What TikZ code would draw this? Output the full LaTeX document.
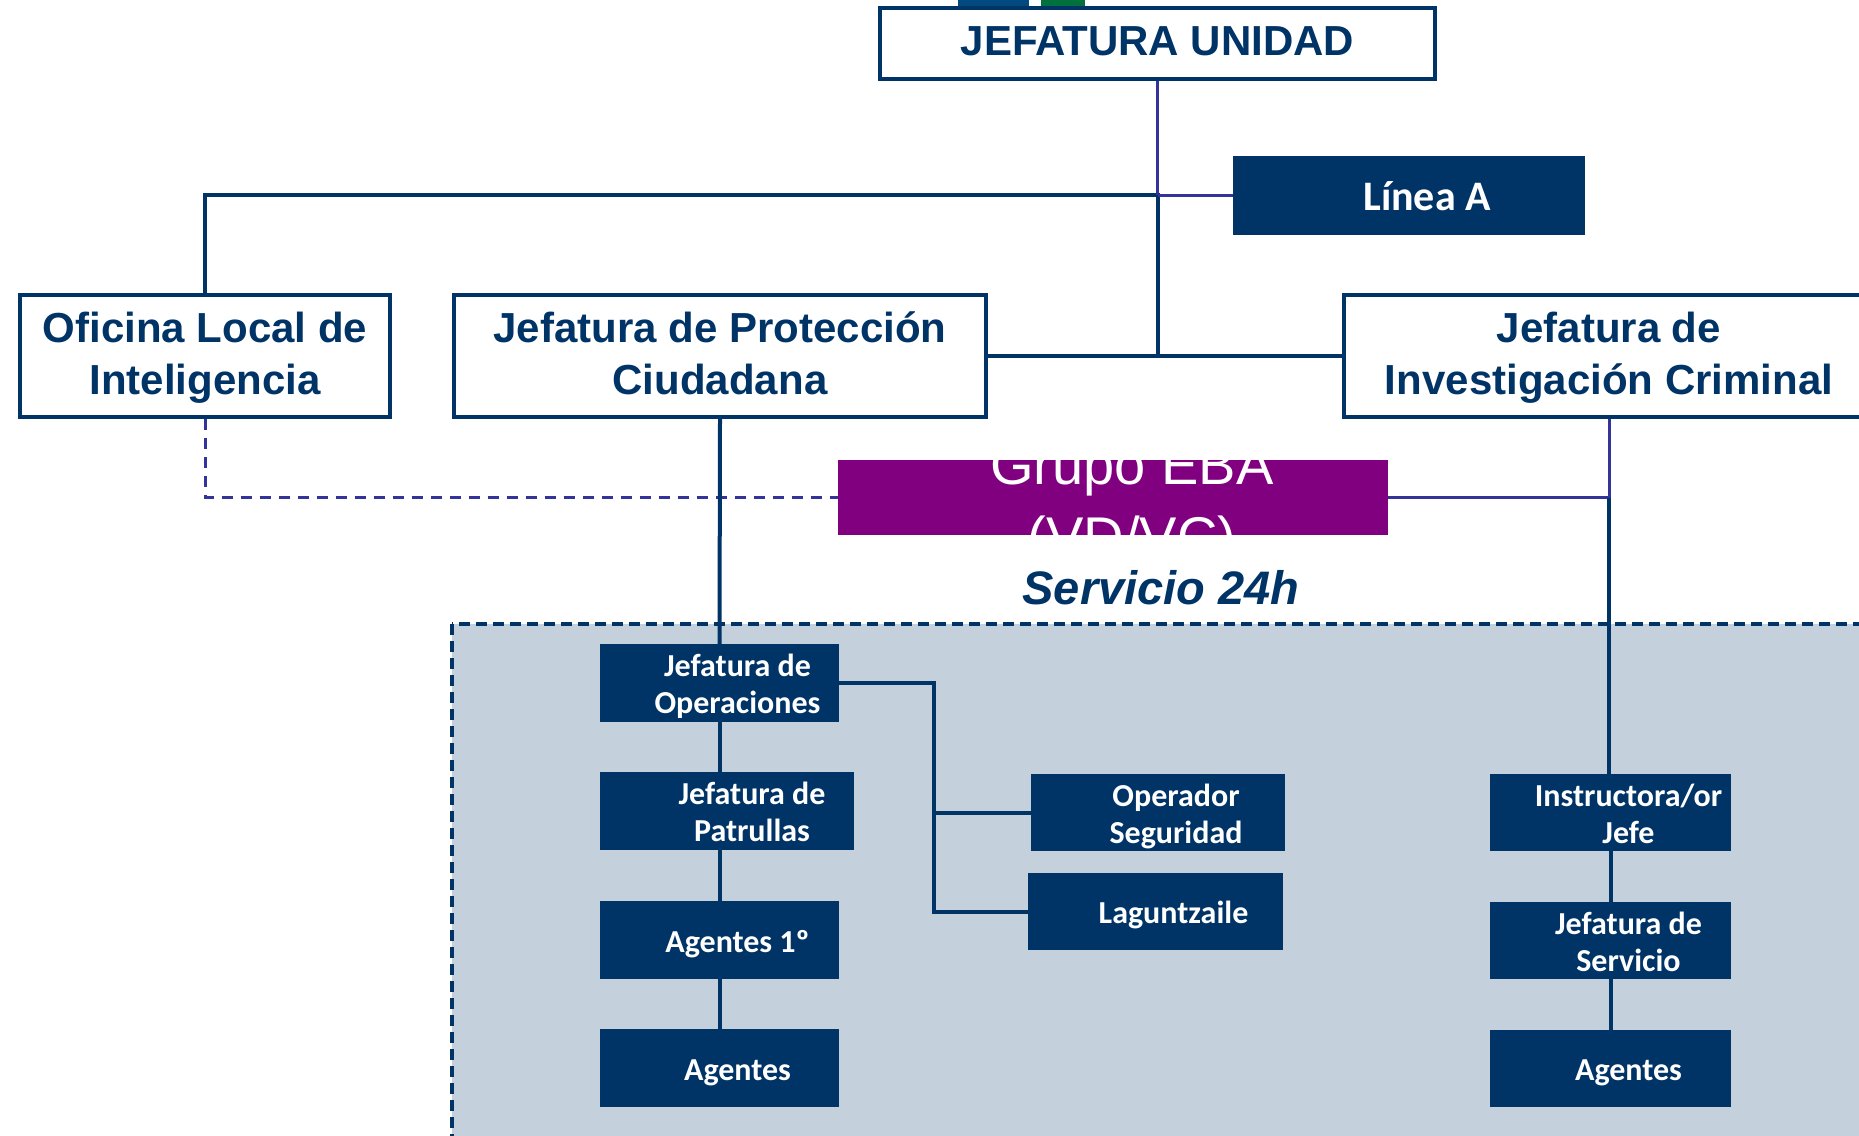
\documentclass[tikz,border=0pt]{standalone}
\usepackage{fontspec}
\setmainfont{Liberation Sans}
\newfontfamily\calfont{Carlito}
\definecolor{navy}{RGB}{0,51,102}
\definecolor{ebapurple}{RGB}{128,0,128}
\definecolor{linkpurple}{RGB}{51,51,153}
\definecolor{svcgrey}{RGB}{197,208,221}
\definecolor{topblue}{RGB}{0,74,128}
\definecolor{topgreen}{RGB}{0,112,60}
\newcommand\shiftedtext[2]{\raisebox{-5pt}[\height][\depth]{\hspace*{#1}\begin{tabular}{@{}c@{}}#2\end{tabular}}}
\newcommand\bigtext[2]{\raisebox{#1}[\height][\depth]{\begin{tabular}{@{}c@{}}#2\end{tabular}}}
\begin{document}
\begin{tikzpicture}[x=1pt,y=-1pt,
  bigbox/.style={draw=navy, line width=4pt, fill=white, text=navy,
    font=\fontsize{42}{52}\selectfont\bfseries, inner sep=0pt},
  navybox/.style={fill=navy, text=white, inner sep=0pt,
    font=\calfont\bfseries\fontsize{32}{37}\selectfont},
  thickline/.style={draw=navy, line width=4pt},
  thinline/.style={draw=linkpurple, line width=3pt},
  dashline/.style={draw=linkpurple, line width=3pt, dash pattern=on 11pt off 8pt}
]
\useasboundingbox (0,0) rectangle (1859,1135);
\clip (0,0) rectangle (1859,1135);
\fill[white] (0,0) rectangle (1859,1135);

% top slivers
\fill[topblue] (958,0) rectangle (1029,6);
\fill[topgreen] (1041,0) rectangle (1085,6);

% service area
\draw[fill=svcgrey, draw=navy, line width=3.5pt, dash pattern=on 11pt off 6pt]
  (452,624) rectangle (1880,1160);

% main boxes
\node[bigbox, minimum width=555pt, minimum height=71pt] (ju) at (1157.5,43.5) {\bigtext{-1.5pt}{JEFATURA UNIDAD}};
\node[navybox, minimum width=352pt, minimum height=79pt,
  font=\calfont\bfseries\fontsize{42}{50}\selectfont] (linea) at (1409,195) {\shiftedtext{36pt}{Línea A}};
\node[bigbox, minimum width=370pt, minimum height=122pt] (oli) at (205,356) {\bigtext{-2pt}{Oficina Local de\\Inteligencia}};
\node[bigbox, minimum width=532pt, minimum height=122pt] (jpc) at (720,356) {\bigtext{-2pt}{Jefatura de Protección\\Ciudadana}};
\node[bigbox, minimum width=530pt, minimum height=122pt] (jic) at (1609,356) {\bigtext{-2pt}{Jefatura de\\Investigación Criminal}};

% Grupo EBA
\node[fill=ebapurple, minimum width=550pt, minimum height=75pt, inner sep=0pt] (eba) at (1113,497.5) {};
\node[text=white, font=\fontsize{56}{67}\selectfont, anchor=base, inner sep=0pt] (ebat1) at (1132,484) {Grupo EBA};
\node[text=white, font=\fontsize{56}{67}\selectfont, anchor=base, inner sep=0pt] (ebat2) at (1132,556) {(VD/VC)};

% service boxes
\node[navybox, minimum width=239pt, minimum height=78pt] (jo) at (719.5,683) {\shiftedtext{36pt}{Jefatura de\\Operaciones}};
\node[navybox, minimum width=254pt, minimum height=78pt] (jp) at (727,811) {\shiftedtext{50pt}{Jefatura de\\Patrullas}};
\node[navybox, minimum width=239pt, minimum height=78pt] (a1) at (719.5,940) {\shiftedtext{36pt}{Agentes 1º}};
\node[navybox, minimum width=239pt, minimum height=78pt] (ag) at (719.5,1068) {\shiftedtext{36pt}{Agentes}};
\node[navybox, minimum width=254pt, minimum height=77pt] (os) at (1158,812.5) {\shiftedtext{36pt}{Operador\\Seguridad}};
\node[navybox, minimum width=255pt, minimum height=77pt] (lag) at (1155.5,911.5) {\shiftedtext{36pt}{Laguntzaile}};
\node[navybox, minimum width=241pt, minimum height=77pt] (ins) at (1610.5,812.5) {\shiftedtext{36pt}{Instructora/or\\Jefe}};
\node[navybox, minimum width=241pt, minimum height=77pt] (js) at (1610.5,940.5) {\shiftedtext{36pt}{Jefatura de\\Servicio}};
\node[navybox, minimum width=241pt, minimum height=77pt] (ag2) at (1610.5,1068.5) {\shiftedtext{36pt}{Agentes}};

% connector coordinates
\coordinate (hub) at (ju.south |- linea.west);
\coordinate (olitop) at (oli.north |- linea.west);
\coordinate (midjoin) at (ju.south |- jpc.east);
\coordinate (ebajoin) at (jic.south |- eba.east);
\coordinate (olidash) at (oli.south |- eba.west);
\coordinate (opsx) at (934,683);

% upper connectors
\draw[thickline] (oli.north) -- (olitop) -- (hub) -- (midjoin);
\draw[thinline] (ju.south) -- (hub);
\draw[thinline] (hub) -- (linea.west);
\draw[thickline] (jpc.east) -- (jic.west);
\draw[dashline] (oli.south) -- (olidash) -- (eba.west);
\draw[thinline] (jic.south) -- (ebajoin) -- (eba.east);
\draw[thickline] (ebajoin) -- (jic.south |- ins.north);

% left column
\draw[thickline] (jpc.south) -- (jo.north);
\draw[thickline] (jo.south) -- (jo.south |- jp.north);
\draw[thickline] (jo.south |- jp.south) -- (a1.north);
\draw[thickline] (a1.south) -- (ag.north);
\draw[thickline] (jo.east) -- (opsx) -- (opsx |- lag.west) -- (lag.west);
\draw[thickline] (opsx |- os.west) -- (os.west);

% right column
\draw[thickline] (ins.south) -- (js.north);
\draw[thickline] (js.south) -- (ag2.north);

% service label
\node[text=navy, font=\fontsize{47}{56}\selectfont\bfseries\itshape, anchor=base, inner sep=0pt] (svc) at (1161,604) {Servicio 24h};
\end{tikzpicture}
\end{document}
